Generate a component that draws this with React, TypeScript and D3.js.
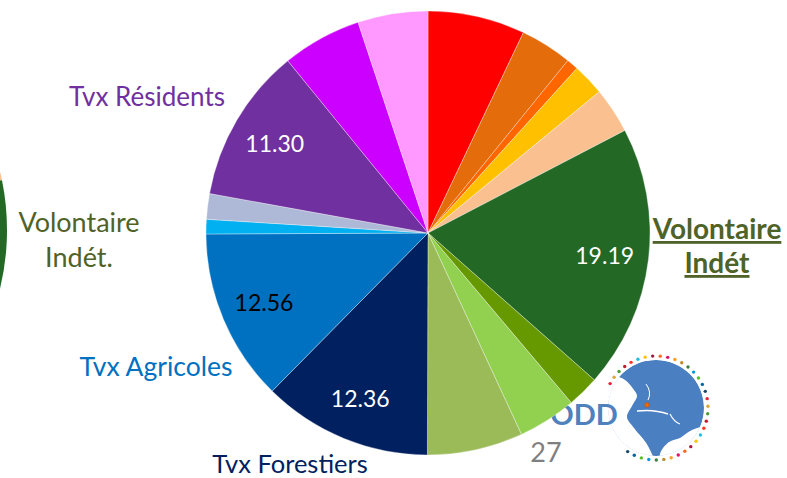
import React from "react";
import * as d3 from "d3";

const W = 787;
const H = 478;

// slices clockwise from 12 o'clock (share in %)
const sliceValues = [7.08, 3.78, 0.86, 2.33, 3.33, 19.19, 2.33, 4.25, 6.97, 12.36, 12.56, 1.06, 1.86, 11.3, 5.78, 5.11];
const sliceColors = [
  "#ff0000", "#e46c0a", "#ff6600", "#ffc000", "#fac090", "#236925", "#669900", "#92d050",
  "#9bbb59", "#002060", "#0070c0", "#00b0f0", "#adb9d6", "#7030a0", "#cc00ff", "#ff99ff",
];
const sliceLabels = ["", "", "", "", "", "19.19", "", "", "", "12.36", "12.56", "", "", "11.30", "", ""];
const labelFills = ["#fff", "#fff", "#fff", "#fff", "#fff", "#fff", "#fff", "#fff", "#fff", "#fff", "#000", "#fff", "#fff", "#fff", "#fff", "#fff"];

// neighbour pie cut off at the left edge (degrees)
const leftPieEdges = [50, 78.5, 135];
const leftPieColors = ["#fac090", "#236925"];

const sdgColors = [
  "#e5243b", "#dda63a", "#4c9f38", "#c5192d", "#ff3a21", "#26bde2", "#fcc30b", "#a21942", "#fd6925",
  "#dd1367", "#fd9d24", "#bf8b2e", "#3f7e44", "#0a97d9", "#56c02b", "#00689d", "#19486a",
];

const FONT = "Lato, 'Open Sans', sans-serif";
const OLIVE = "#4f6228";

const Globe: React.FC<{ x: number; y: number }> = ({ x, y }) => {
  const r = 48;
  const dots = d3.range(34).map(i => {
    const a = ((-62 + (i * 275) / 33) * Math.PI) / 180;
    return { x: x + 52 * Math.sin(a), y: y - 52 * Math.cos(a), c: sdgColors[i % sdgColors.length] };
  });
  const closed = d3.line().curve(d3.curveCatmullRomClosed);
  // oceans left white: Atlantic west of Europe / Africa, Indian ocean
  const atlantic: [number, number][] = [
    [x - 60, y - 34], [x - 34, y - 30], [x - 22, y - 18], [x - 19, y - 12], [x - 24, y - 2],
    [x - 29, y + 9], [x - 22, y + 20], [x - 8, y + 38], [x - 2, y + 60], [x - 60, y + 60],
  ];
  const greenland: [number, number][] = [
    [x - 38, y - 32], [x - 26, y - 44], [x - 10, y - 48], [x - 14, y - 38], [x - 28, y - 30],
  ];
  const indian: [number, number][] = [
    [x + 4, y + 46], [x + 13, y + 34], [x + 24, y + 30], [x + 36, y + 22], [x + 50, y + 20],
    [x + 60, y + 60], [x + 6, y + 60],
  ];
  return (
    <g>
      <defs>
        <clipPath id="globe-clip">
          <circle cx={x} cy={y} r={r} />
        </clipPath>
      </defs>
      <g clipPath="url(#globe-clip)">
        <circle cx={x} cy={y} r={r} fill="#4a7fc1" />
        <path d={closed(atlantic) ?? ""} fill="#fff" />
        <path d={closed(indian) ?? ""} fill="#fff" />
        <path d={closed(greenland) ?? ""} fill="#4a7fc1" />
        <path d={`M${x - 19},${y + 3} Q${x - 2},${y + 1} ${x + 12},${y + 6}`} stroke="#fff" strokeWidth={1.4} fill="none" />
        <path d={`M${x - 10},${y - 24} q6,8 2,16`} stroke="#fff" strokeWidth={1} fill="none" />
        <path d={`M${x + 14},${y + 6} q4,8 10,10`} stroke="#fff" strokeWidth={1.2} fill="none" />
      </g>
      <circle cx={x - 9} cy={y - 3} r={2.4} fill="#e46c0a" stroke="#a0522d" strokeWidth={0.6} />
      {dots.map((d, i) => (
        <circle key={i} cx={d.x} cy={d.y} r={1.7} fill={d.c} />
      ))}
    </g>
  );
};

export default function App() {
  const cx = 428;
  const cy = 233;
  const R = 222;

  const pie = d3.pie<number>().sort(null).value(d => d);
  const arcs = pie(sliceValues);
  const arc = d3.arc<d3.PieArcDatum<number>>().innerRadius(0).outerRadius(R);
  const labelArc = d3.arc<d3.PieArcDatum<number>>().innerRadius(178).outerRadius(178);

  const leftArc = d3.arc<{ a0: number; a1: number }>()
    .innerRadius(0)
    .outerRadius(250)
    .startAngle(d => (d.a0 * Math.PI) / 180)
    .endAngle(d => (d.a1 * Math.PI) / 180);

  return (
    <svg
      width={W}
      height={H}
      style={{ position: "absolute", left: 0, top: 0, background: "#fff" }}
      fontFamily={FONT}
    >
      <rect width={W} height={H} fill="#fff" />

      {/* neighbouring pie, cut by the left edge */}
      <g transform="translate(-243,230)">
        {leftPieColors.map((c, i) => (
          <path key={i} d={leftArc({ a0: leftPieEdges[i], a1: leftPieEdges[i + 1] }) ?? ""} fill={c} />
        ))}
      </g>

      <Globe x={656} y={408} />

      {/* slide text sitting behind the pie */}
      <text x={584} y={425} textAnchor="middle" fontSize={29} fontWeight={700} fill="#4f81bd">ODD</text>
      <text x={546} y={462} textAnchor="middle" fontSize={27} fill="#7f7f7f">27</text>

      <g transform={`translate(${cx},${cy})`}>
        {arcs.map((a, i) => (
          <path key={i} d={arc(a) ?? ""} fill={sliceColors[i]} stroke="#fff" strokeWidth={0.6} strokeOpacity={0.55} />
        ))}
        {arcs.map((a, i) => {
          if (!sliceLabels[i]) return null;
          const [lx, ly] = labelArc.centroid(a);
          return (
            <text key={i} x={lx} y={ly} textAnchor="middle" dominantBaseline="central" fontSize={23} fill={labelFills[i]}>
              {sliceLabels[i]}
            </text>
          );
        })}
      </g>

      {/* category labels */}
      <text x={147} y={106} textAnchor="middle" fontSize={26} fill="#7030a0">Tvx Résidents</text>
      <text x={79} y={232} textAnchor="middle" fontSize={27} fill={OLIVE}>Volontaire</text>
      <text x={79} y={267} textAnchor="middle" fontSize={27} fill={OLIVE}>Indét.</text>
      <text x={156} y={376} textAnchor="middle" fontSize={26.5} fill="#0070c0">Tvx Agricoles</text>
      <text x={290} y={473} textAnchor="middle" fontSize={25.5} fill="#002060">Tvx Forestiers</text>
      <text x={717} y={239} textAnchor="middle" fontSize={28} fontWeight={700} fill={OLIVE} textDecoration="underline">Volontaire</text>
      <text x={717} y={273} textAnchor="middle" fontSize={28} fontWeight={700} fill={OLIVE} textDecoration="underline">Indét</text>
    </svg>
  );
}
